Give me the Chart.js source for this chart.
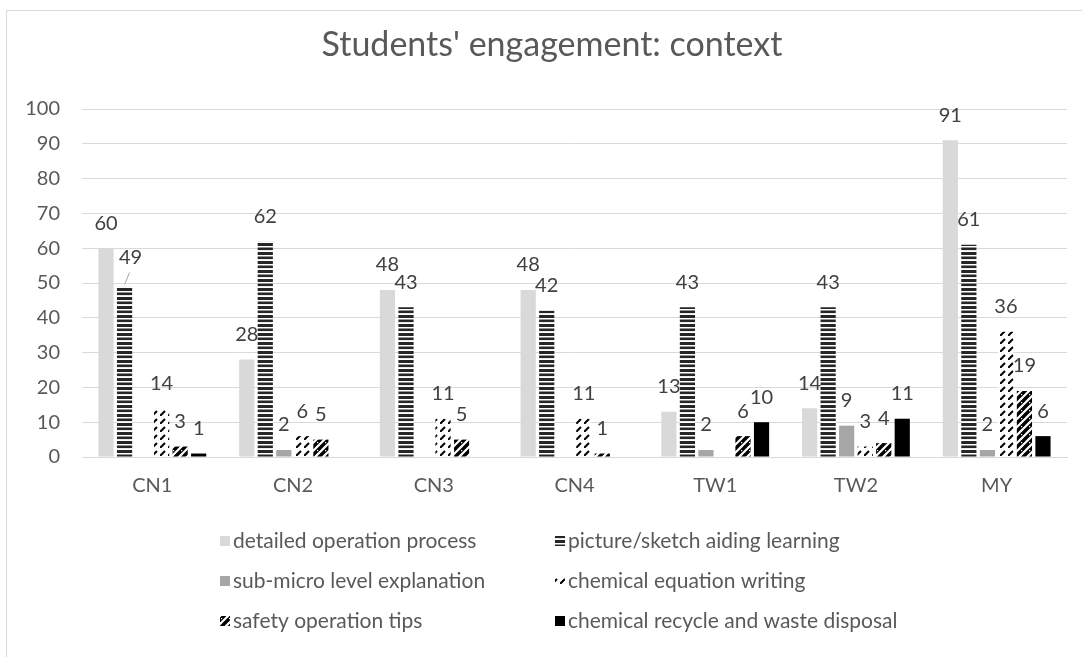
<!DOCTYPE html>
<html>
<head>
<meta charset="utf-8">
<script src="https://cdn.jsdelivr.net/npm/chart.js@4.4.0/dist/chart.umd.min.js"></script>
<style>
  html, body { margin: 0; padding: 0; background: #fff; }
  #wrap { width: 1082px; height: 657px; position: relative; }
</style>
</head>
<body>
<div id="wrap"><canvas id="chart" width="1082" height="657"></canvas></div>
<script>
// data
const categories = ['CN1', 'CN2', 'CN3', 'CN4', 'TW1', 'TW2', 'MY'];
const seriesNames = [
    'detailed operation process',
    'picture/sketch aiding learning',
    'sub-micro level explanation',
    'chemical equation writing',
    'safety operation tips',
    'chemical recycle and waste disposal'
];
const detailedOperation = [60, 28, 48, 48, 13, 14, 91];
const pictureSketch = [49, 62, 43, 42, 43, 43, 61];
const subMicro = [null, 2, null, null, 2, 9, 2];
const equationWriting = [14, 6, 11, 11, null, 3, 36];
const safetyTips = [3, 5, 5, 1, 6, 4, 19];
const recycleDisposal = [1, null, null, null, 10, 11, 6];
const yTicks = [0, 10, 20, 30, 40, 50, 60, 70, 80, 90, 100];

const FONT = 'Lato, "Open Sans", sans-serif';
const TEXT = '#595959';

// fill patterns like the excel ones
function makeTile(w, h, draw) {
    let c = document.createElement('canvas');
    c.width = w;
    c.height = h;
    let g = c.getContext('2d');
    g.fillStyle = '#ffffff';
    g.fillRect(0, 0, w, h);
    draw(g);
    return document.getElementById('chart').getContext('2d').createPattern(c, 'repeat');
}

const stripes = makeTile(8, 9, g => {
    g.fillStyle = '#262626';
    g.fillRect(0, 0, 8, 3);
    g.fillRect(0, 4.5, 8, 2.6);
});

const dashedDiag = makeTile(8, 8, g => {
    g.strokeStyle = '#000000';
    g.lineWidth = 2;
    g.beginPath();
    g.moveTo(0, 8);
    g.lineTo(5, 3);
    g.stroke();
});

const wideDiag = makeTile(8, 8, g => {
    g.strokeStyle = '#000000';
    g.lineWidth = 3.4;
    g.beginPath();
    g.moveTo(-2, 10);
    g.lineTo(10, -2);
    g.moveTo(-2, 2);
    g.lineTo(2, -2);
    g.moveTo(6, 10);
    g.lineTo(10, 6);
    g.stroke();
    // small white breaks across the stripes
    g.fillStyle = '#ffffff';
    g.fillRect(5, 2, 1.2, 1.2);
});

const fills = ['#d9d9d9', stripes, '#a6a6a6', dashedDiag, wideDiag, '#000000'];
const seriesData = [detailedOperation, pictureSketch, subMicro, equationWriting, safetyTips, recycleDisposal];

// chart title, centred over the frame like excel does
const frameTitle = {
    id: 'frameTitle',
    afterDraw(chart) {
        let ctx = chart.ctx;
        ctx.save();
        ctx.font = '34px ' + FONT;
        ctx.fillStyle = TEXT;
        ctx.textAlign = 'center';
        ctx.textBaseline = 'middle';
        ctx.fillText("Students' engagement: context", 552, 45);
        ctx.restore();
    }
};

// value labels over each bar
const valueLabels = {
    id: 'valueLabels',
    afterDatasetsDraw(chart) {
        let ctx = chart.ctx;
        ctx.save();
        ctx.font = '20px ' + FONT;
        ctx.textAlign = 'center';
        ctx.textBaseline = 'middle';
        chart.data.datasets.forEach((ds, i) => {
            let meta = chart.getDatasetMeta(i);
            meta.data.forEach((bar, j) => {
                let v = ds.data[j];
                if (v === null || v === undefined) return;
                let x = bar.x;
                let y = bar.y - 25;
                // CN1 "49" was dragged aside in the original, with a leader line
                if (i === 1 && j === 0) {
                    x += 6;
                    y -= 4;
                    ctx.strokeStyle = '#a6a6a6';
                    ctx.lineWidth = 1;
                    ctx.beginPath();
                    ctx.moveTo(bar.x, bar.y - 2);
                    ctx.lineTo(bar.x + 5, bar.y - 14);
                    ctx.stroke();
                }
                ctx.fillStyle = '#404040';
                ctx.fillText(String(v), x, y);
            });
        });
        ctx.restore();
    }
};

// two column legend at the bottom
const sideLegend = {
    id: 'sideLegend',
    afterDraw(chart) {
        let ctx = chart.ctx;
        let colX = [220, 555];
        let rowY = [541, 581, 621];
        ctx.save();
        ctx.font = '21px ' + FONT;
        ctx.textBaseline = 'middle';
        ctx.textAlign = 'left';
        seriesNames.forEach((name, i) => {
            let x = colX[i % 2];
            let y = rowY[Math.floor(i / 2)];
            ctx.fillStyle = fills[i];
            ctx.fillRect(x, y - 5, 10, 10);
            ctx.fillStyle = TEXT;
            ctx.fillText(name, x + 13, y);
        });
        ctx.restore();
    }
};

// chart frame (only top and left edges are inside the picture)
const frame = {
    id: 'frame',
    beforeDraw(chart) {
        let ctx = chart.ctx;
        ctx.save();
        ctx.fillStyle = '#ffffff';
        ctx.fillRect(0, 0, chart.width, chart.height);
        ctx.strokeStyle = '#d9d9d9';
        ctx.lineWidth = 1;
        ctx.strokeRect(6.5, 10.5, 1200, 800);
        ctx.restore();
    }
};

let ctx = document.getElementById('chart').getContext('2d');
let chart = new Chart(ctx, {
    type: 'bar',
    data: {
        labels: categories,
        datasets: seriesNames.map((name, i) => ({
            label: name,
            data: seriesData[i],
            backgroundColor: fills[i],
            borderWidth: 0,
            categoryPercentage: 0.79,
            barPercentage: 0.82
        }))
    },
    options: {
        responsive: false,
        animation: false,
        devicePixelRatio: 1,
        layout: {
            padding: { left: 0, right: 15, top: 109, bottom: 150 }
        },
        plugins: {
            legend: { display: false },
            tooltip: { enabled: false },
            title: { display: false }
        },
        scales: {
            x: {
                grid: { display: false, drawTicks: false },
                border: { display: true, color: '#d9d9d9', width: 1 },
                ticks: { color: TEXT, font: { family: FONT, size: 20 }, padding: 17 },
                afterFit(scale) { scale.height = 50; }
            },
            y: {
                min: 0,
                max: 100,
                afterBuildTicks(scale) {
                    scale.ticks = yTicks.map(v => ({ value: v }));
                },
                grid: { color: '#d9d9d9', drawTicks: false },
                border: { display: false },
                ticks: { color: TEXT, font: { family: FONT, size: 20 }, padding: 22 },
                afterFit(scale) { scale.width = 82; }
            }
        }
    },
    plugins: [frame, valueLabels, sideLegend, frameTitle]
});
</script>
</body>
</html>
